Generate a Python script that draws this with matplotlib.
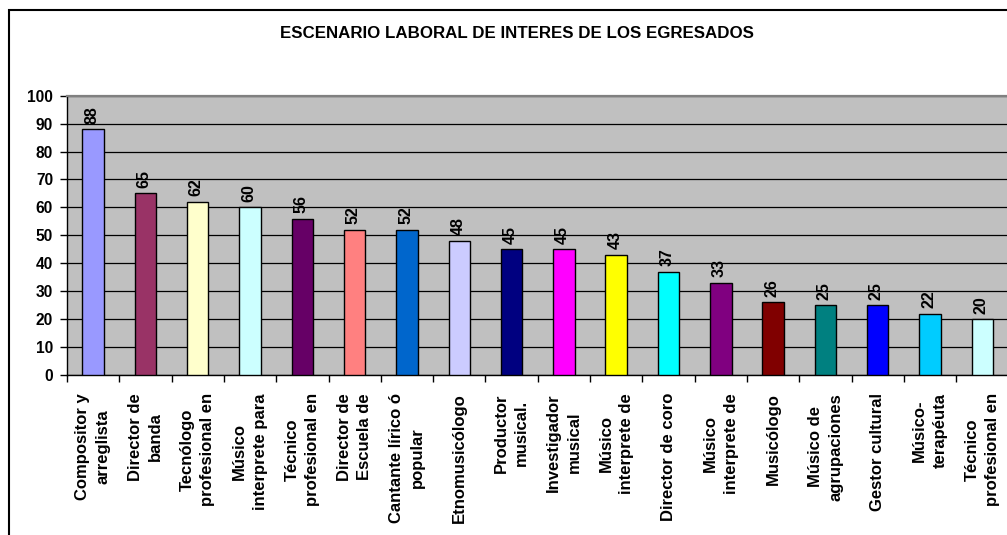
import matplotlib
matplotlib.use('Agg')
import matplotlib.pyplot as plt
from matplotlib.patches import Rectangle
import numpy as np

categories = ['Compositor y\narreglista',
              'Director de\nbanda',
              'Tecnólogo\nprofesional en',
              'Músico\ninterprete para',
              'Técnico\nprofesional en',
              'Director de\nEscuela de',
              'Cantante lírico ó\npopular',
              'Etnomusicólogo',
              'Productor\nmusical.',
              'Investigador\nmusical',
              'Músico\ninterprete de',
              'Director de coro',
              'Músico\ninterprete de',
              'Musicólogo',
              'Músico de\nagrupaciones',
              'Gestor cultural',
              'Músico-\nterapéuta',
              'Técnico\nprofesional en',
              ]

values = [88, 65, 62, 60, 56, 52, 52, 48, 45, 45, 43, 37, 33, 26, 25, 25, 22, 20]

bar_colors = ['#9999FF', '#993366', '#FFFFCC', '#CCFFFF', '#660066', '#FF8080',
              '#0066CC', '#CCCCFF', '#000080', '#FF00FF', '#FFFF00', '#00FFFF',
              '#800080', '#800000', '#008080', '#0000FF', '#00CCFF', '#CCFFFF']

y_ticks = [0, 10, 20, 30, 40, 50, 60, 70, 80, 90, 100]

title = 'ESCENARIO LABORAL DE INTERES DE LOS EGRESADOS'

plt.rcParams['font.family'] = ['Liberation Sans', 'DejaVu Sans']
plt.rcParams['font.weight'] = 'bold'

W, H = 1007, 535
fig = plt.figure(figsize=(W / 100, H / 100), dpi=100)

# outer chart frame (right/bottom edges fall outside the picture)
fig.add_artist(Rectangle((8.5 / W, -0.5), 2, 0.5 + (H - 10) / H,
                         transform=fig.transFigure, fill=False,
                         edgecolor='black', linewidth=1.5, clip_on=False))

ax = fig.add_axes([67 / W, 160 / H, (1008.5 - 67) / W, (439.3 - 160) / H])
ax.set_facecolor('#C0C0C0')

x = np.arange(len(values))
ax.bar(x, values, width=0.41, color=bar_colors, edgecolor='black',
       linewidth=1.0, zorder=3)

for xi, v in zip(x, values):
    ax.annotate(str(v), (xi, v), xytext=(-1, 4), textcoords='offset points',
                rotation=90, ha='center', va='bottom', fontsize=11.5,
                fontweight='bold', zorder=4)

ax.set_xlim(-0.5, len(values) - 0.5)
ax.set_ylim(0, 100)
ax.set_yticks(y_ticks)
ax.yaxis.grid(True, color='black', linewidth=0.9, zorder=1)
ax.set_axisbelow(True)

ax.set_xticks(x)
ax.set_xticklabels(categories, rotation=90, ha='center', va='top',
                   multialignment='center', fontsize=12, fontweight='bold',
                   linespacing=1.45)
ax.set_xticks(np.arange(-0.5, len(values), 1), minor=True)
ax.tick_params(axis='x', which='major', length=0, pad=13)
ax.tick_params(axis='x', which='minor', length=5, width=1, direction='out')
ax.tick_params(axis='y', length=5, width=1, direction='out', pad=5,
               labelsize=11.2)
for lab in ax.get_yticklabels():
    lab.set_fontweight('bold')

ax.spines['right'].set_visible(False)
ax.spines['top'].set_color('#808080')
ax.spines['top'].set_linewidth(1.6)
ax.spines['left'].set_linewidth(1.0)
ax.spines['bottom'].set_linewidth(1.0)

fig.text(516.5 / W, 1 - 34 / H, title, ha='center', va='center',
         fontsize=12.2, fontweight='bold')

fig.savefig('out.png', dpi=100)
